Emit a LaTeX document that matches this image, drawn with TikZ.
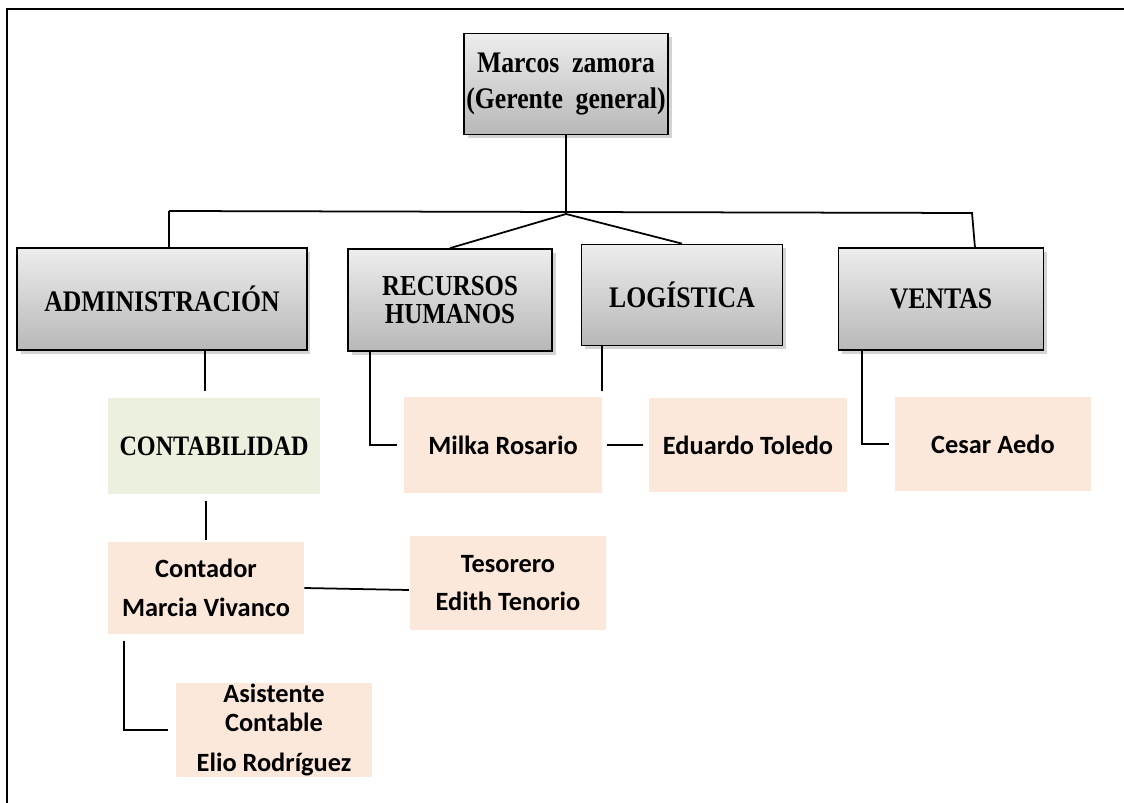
\documentclass[tikz,border=0pt]{standalone}
\usepackage{fontspec}
\setmainfont{Liberation Serif}
\newfontfamily\angosta{Liberation Serif}[FakeStretch=0.86]
\newfontfamily\calibri{Carlito}
\usetikzlibrary{shadows}
\definecolor{durazno}{HTML}{FCE8DA}
\definecolor{verdecito}{HTML}{EBF0DF}

\tikzset{
  linea/.style={line width=1pt},
  jefe/.style={draw=black, line width=1pt, top color=black!7, bottom color=black!28,
    drop shadow={shadow xshift=2pt, shadow yshift=-2pt, opacity=0.35},
    font=\angosta\bfseries\fontsize{17}{20}\selectfont, align=center, inner sep=0pt},
  area/.style={fill=verdecito, font=\angosta\bfseries\fontsize{16}{17}\selectfont, align=center, inner sep=0pt},
  persona/.style={fill=durazno, font=\calibri\bfseries\fontsize{15}{22}\selectfont, align=center, inner sep=0pt}
}

\begin{document}
\begin{tikzpicture}[x=0.02cm, y=-0.02cm]

\useasboundingbox (0,0) rectangle (1124,803);

% marco
\draw [linea] (7,803) -- (7,9) -- (1124,9);

% gerencia
\node [jefe, minimum width=4.08cm, minimum height=2.02cm] (gerente) at (566,84) {Marcos\ \ zamora\\(Gerente\ \ general)};

% areas
\node [jefe, minimum width=5.8cm, minimum height=2.04cm] (admin) at (162,299) {ADMINISTRACIÓN};
\node [jefe, minimum width=4.08cm, minimum height=2.04cm, font=\angosta\bfseries\fontsize{16.5}{15.5}\selectfont] (rrhh) at (450,300) {RECURSOS\\HUMANOS};
\node [jefe, minimum width=4.02cm, minimum height=2.02cm] (logistica) at (682,295) {LOGÍSTICA};
\node [jefe, minimum width=4.1cm, minimum height=2.04cm] (ventas) at (941,299) {VENTAS};

\node [area, minimum width=4.24cm, minimum height=1.92cm] (conta) at (214,446) {CONTABILIDAD};

% personas
\node [persona, minimum width=3.96cm, minimum height=1.92cm] (milka) at (503,445) {Milka Rosario};
\node [persona, minimum width=3.96cm, minimum height=1.88cm] (eduardo) at (748,445) {Eduardo Toledo};
\node [persona, minimum width=3.92cm, minimum height=1.88cm] (cesar) at (993,444) {Cesar Aedo};
\node [persona, minimum width=3.92cm, minimum height=1.86cm] (contador) at (206,588) {Contador\\Marcia Vivanco};
\node [persona, minimum width=3.94cm, minimum height=1.9cm] (tesorero) at (508,583) {Tesorero\\Edith Tenorio};
\node [persona, minimum width=3.94cm, minimum height=1.9cm, font=\calibri\bfseries\fontsize{15}{16.5}\selectfont] (asistente) at (274,730) {Asistente\\Contable\\[6pt]Elio Rodríguez};

% puntos sueltos
\coordinate (nudo) at (566,214);
\coordinate (izq) at (169,211);
\coordinate (der) at (972,213);
\coordinate (v1) at (975,248);
\coordinate (a1) at (205,391);
\coordinate (c1) at (206,501);
\coordinate (c2) at (206,540);
\coordinate (t1) at (409,590);
\coordinate (as1) at (124,641);
\coordinate (r1) at (370,0);
\coordinate (l1) at (602,391);
\coordinate (v2) at (862,0);

% conectores
\draw [linea] (gerente.south) -- (nudo);
\draw [linea] (izq) -- (der) -- (v1);
\draw [linea] (izq) -- (izq |- admin.north);
\draw [linea] (nudo) -- (rrhh.north);
\draw [linea] (nudo) -- (logistica.north);

\draw [linea] (a1 |- admin.south) -- (a1);
\draw [linea] (c1) -- (c2);
\draw [linea] (contador.east) -- (t1);
\draw [linea] (as1) |- ([xshift=-0.14cm]asistente.west);

\draw [linea] (r1 |- rrhh.south) |- ([xshift=-0.14cm]milka.west);
\draw [linea] ([xshift=0.1cm]milka.east) -- ([xshift=-0.12cm]eduardo.west);
\draw [linea] (l1 |- logistica.south) -- (l1);
\draw [linea] (v2 |- ventas.south) |- ([xshift=-0.12cm]cesar.west);

\end{tikzpicture}
\end{document}
